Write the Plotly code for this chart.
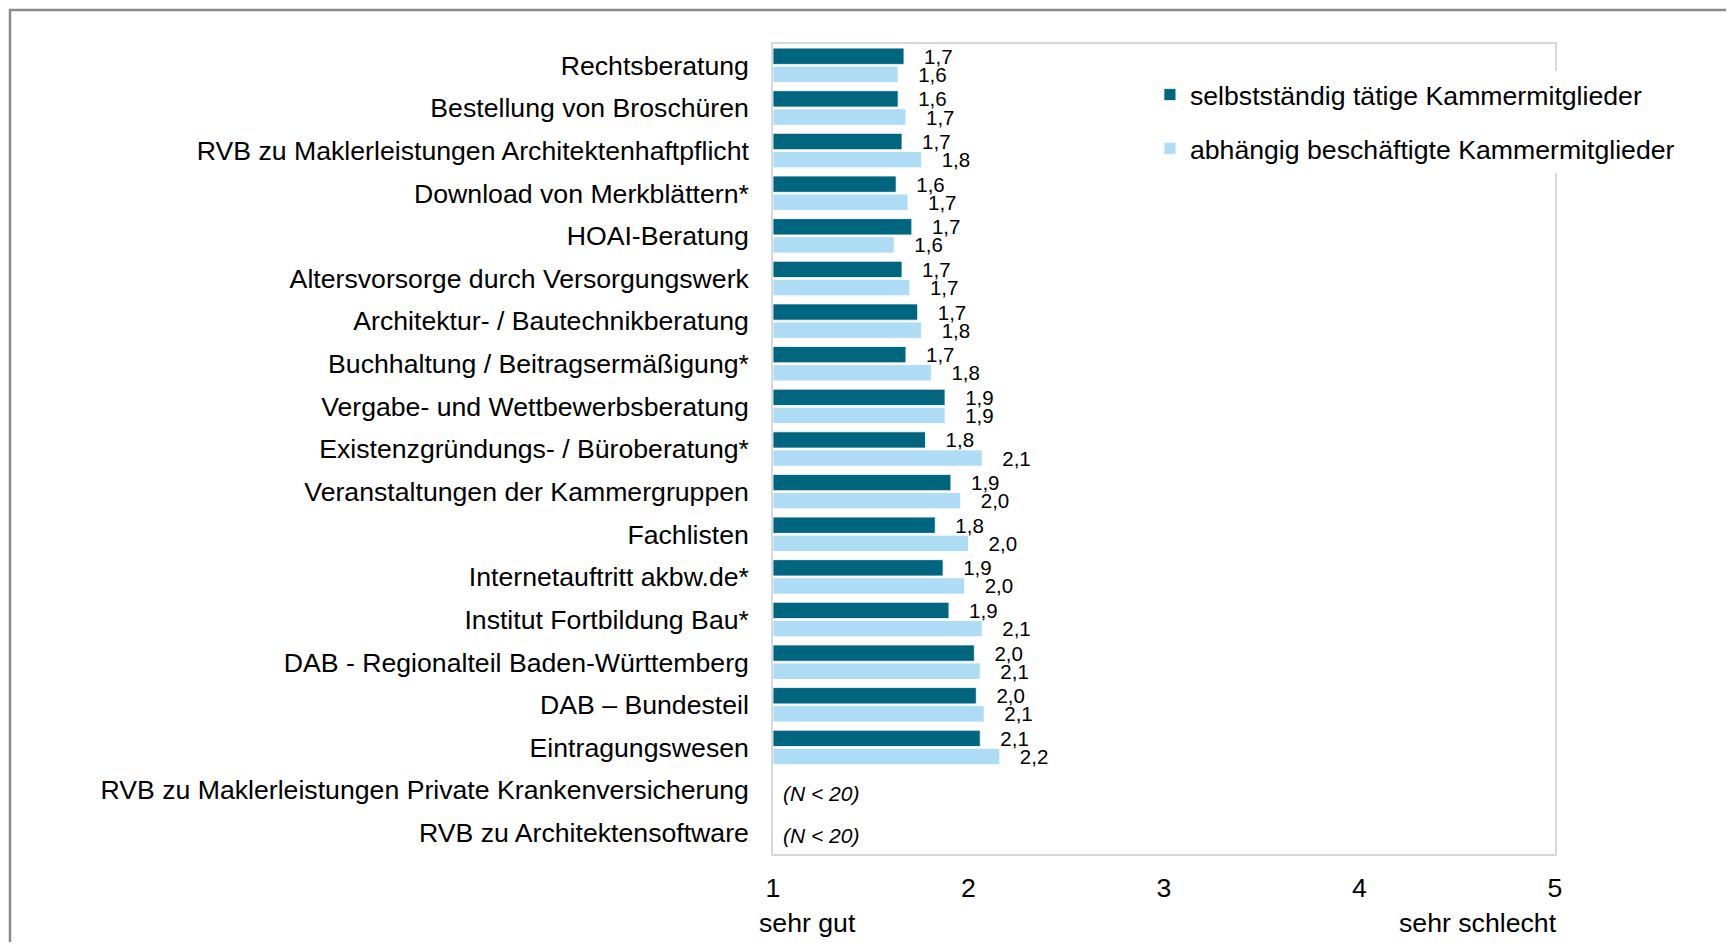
import plotly.graph_objects as go

KATEGORIEN = [
    "Rechtsberatung",
    "Bestellung von Broschüren",
    "RVB zu Maklerleistungen Architektenhaftpflicht",
    "Download von Merkblättern*",
    "HOAI-Beratung",
    "Altersvorsorge durch Versorgungswerk",
    "Architektur- / Bautechnikberatung",
    "Buchhaltung / Beitragsermäßigung*",
    "Vergabe- und Wettbewerbsberatung",
    "Existenzgründungs- / Büroberatung*",
    "Veranstaltungen der Kammergruppen",
    "Fachlisten",
    "Internetauftritt akbw.de*",
    "Institut Fortbildung Bau*",
    "DAB - Regionalteil Baden-Württemberg",
    "DAB – Bundesteil",
    "Eintragungswesen",
    "RVB zu Maklerleistungen Private Krankenversicherung",
    "RVB zu Architektensoftware",
]
SELBSTSTAENDIG = [1.67, 1.64, 1.66, 1.63, 1.71, 1.66, 1.74, 1.68, 1.88, 1.78,
                  1.91, 1.83, 1.87, 1.90, 2.03, 2.04, 2.06, None, None]
ABHAENGIG = [1.64, 1.68, 1.76, 1.69, 1.62, 1.70, 1.76, 1.81, 1.88, 2.07,
             1.96, 2.00, 1.98, 2.07, 2.06, 2.08, 2.16, None, None]
HINWEIS = {
    "RVB zu Maklerleistungen Private Krankenversicherung": "(N < 20)",
    "RVB zu Architektensoftware": "(N < 20)",
}
SKALA = [1, 2, 3, 4, 5]
SKALA_TEXT = {1: "sehr gut", 5: "sehr schlecht"}

FONT = "Liberation Sans, Arial, sans-serif"
DUNKEL = "#00657F"
HELL = "#AEDCF4"


def label(v):
    return "" if v is None else "   " + f"{v:.1f}".replace(".", ",")


fig = go.Figure()
for name, werte, farbe in [
    ("selbstständig tätige Kammermitglieder", SELBSTSTAENDIG, DUNKEL),
    ("abhängig beschäftigte Kammermitglieder", ABHAENGIG, HELL),
]:
    fig.add_trace(go.Bar(
        y=KATEGORIEN, x=[None if v is None else v - 1 for v in werte], base=1,
        orientation="h", name=name, legendgroup=name,
        marker=dict(color=farbe, line=dict(color="white", width=0.8)),
        text=[label(v) for v in werte], textposition="outside", constraintext="none",
        textfont=dict(size=20.5, color="#000000", family=FONT),
        cliponaxis=False,
    ))

for kat, txt in HINWEIS.items():
    fig.add_annotation(x=1, y=kat, text=f"<i>{txt}</i>", showarrow=False,
                       xanchor="left", xshift=8, yshift=-3,
                       font=dict(size=21, color="#000000", family=FONT))

fig.add_annotation(x=1, y=-0.085, yref="paper", yanchor="middle", text=SKALA_TEXT[1], showarrow=False,
                   xanchor="left", xshift=-16, font=dict(size=26.67, color="#000000", family=FONT))
fig.add_annotation(x=5, y=-0.085, yref="paper", yanchor="middle", text=SKALA_TEXT[5], showarrow=False,
                   xanchor="right", xshift=4, font=dict(size=26.67, color="#000000", family=FONT))

# äußerer Rahmen
fig.add_shape(type="rect", xref="paper", yref="paper", x0=-0.9757, x1=1.6, y0=-0.5, y1=1.042,
              line=dict(color="#8a8a8a", width=2.5), layer="below")

fig.update_layout(
    width=1718, height=934, template="plotly_white",
    margin=dict(l=765, r=171, t=36, b=88),
    font=dict(family=FONT, size=26.67, color="#000000"),
    paper_bgcolor="white", plot_bgcolor="white",
    barmode="group", bargap=0.15, bargroupgap=0.1,
    showlegend=True,
    legend=dict(x=0.482, y=0.967, xanchor="left", yanchor="top", bgcolor="white",
                font=dict(size=26.67), tracegroupgap=16, traceorder="grouped"),
)
fig.update_xaxes(range=[1, 5], tickvals=SKALA, ticktext=[str(s) for s in SKALA],
                 showgrid=False, zeroline=False, showline=True, mirror=True,
                 linecolor="#D9D9D9", linewidth=1.5, ticks="", ticklabelstandoff=9)
fig.update_yaxes(autorange="reversed", showgrid=False, showline=True, mirror=True,
                 linecolor="#D9D9D9", linewidth=1.5, ticks="", ticklabelstandoff=17)

fig.write_html("out.html")
